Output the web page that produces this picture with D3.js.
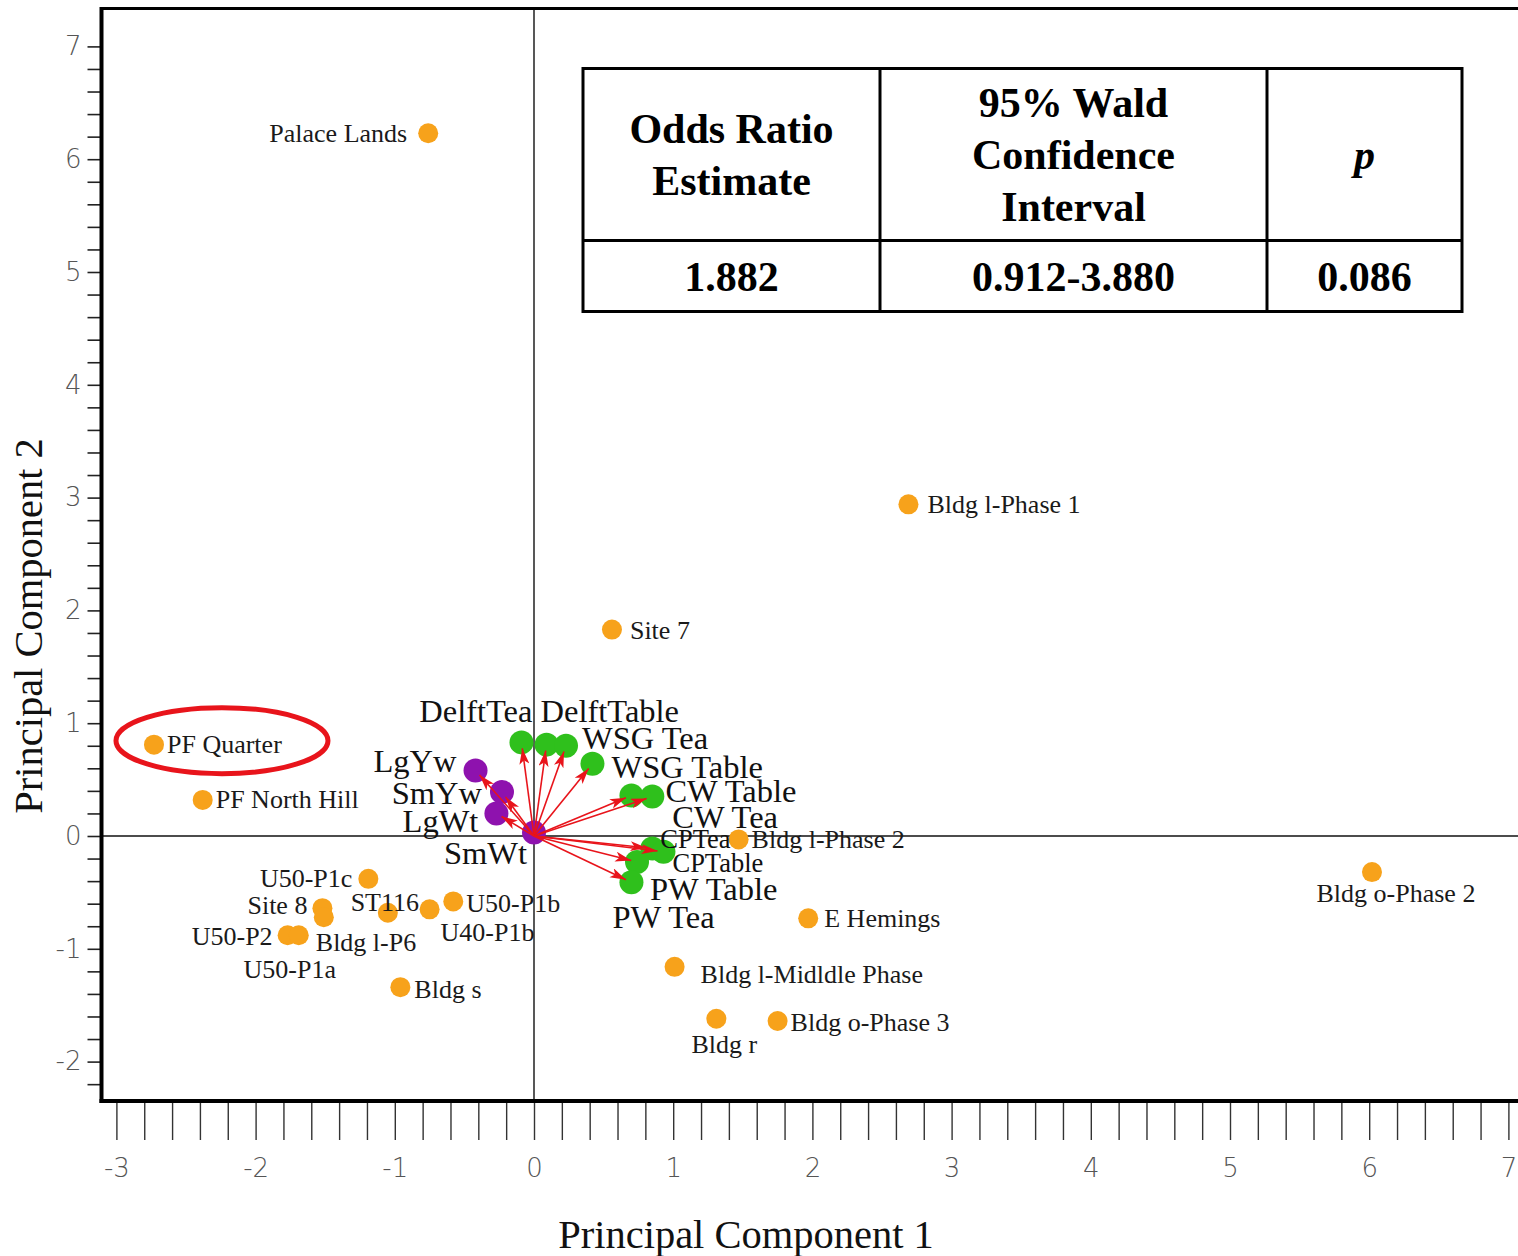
<!DOCTYPE html>
<html>
<head>
<meta charset="utf-8">
<script src="https://cdn.jsdelivr.net/npm/d3@7"></script>
<style>
  html, body { margin: 0; padding: 0; background: #fff; }
  svg { display: block; }
</style>
</head>
<body>
<script>
// ---------------- DATA ----------------
// Sites (PCA scores)
const siteNames = ["Palace Lands", "Bldg l-Phase 1", "Site 7", "PF Quarter", "PF North Hill",
  "Bldg l-Phase 2", "Bldg o-Phase 2", "E Hemings", "Bldg l-Midldle Phase", "Bldg r",
  "Bldg o-Phase 3", "U50-P1c", "Site 8", "Bldg l-P6", "U50-P2", "U50-P1a", "ST116",
  "U40-P1b", "U50-P1b", "Bldg s"];
const sitePC1 = [-0.76, 2.69, 0.56, -2.73, -2.38, 1.47, 6.02, 1.97, 1.01, 1.31,
  1.75, -1.19, -1.52, -1.51, -1.77, -1.69, -1.05, -0.75, -0.58, -0.96];
const sitePC2 = [6.23, 2.94, 1.83, 0.81, 0.32, -0.03, -0.32, -0.73, -1.16, -1.62,
  -1.64, -0.38, -0.64, -0.72, -0.88, -0.88, -0.68, -0.65, -0.58, -1.34];

// Vessel variables (loadings)
const varNames = ["DelftTea", "DelftTable", "WSG Tea", "WSG Table", "CW Table", "CW Tea",
  "CPTea", "CPTable", "PW Table", "PW Tea", "LgYw", "SmYw", "LgWt", "SmWt"];
const varPC1 = [-0.09, 0.09, 0.23, 0.42, 0.70, 0.85, 0.85, 0.93, 0.74, 0.70,
  -0.42, -0.23, -0.27, 0.0];
const varPC2 = [0.83, 0.81, 0.80, 0.64, 0.36, 0.35, -0.11, -0.14, -0.23, -0.41,
  0.58, 0.39, 0.20, 0.03];
const varGroup = ["ware", "ware", "ware", "ware", "ware", "ware", "ware", "ware", "ware", "ware",
  "size", "size", "size", "size"];

// Axis ticks
const xTickLabels = [-3, -2, -1, 0, 1, 2, 3, 4, 5, 6, 7];
const yTickLabels = [-2, -1, 0, 1, 2, 3, 4, 5, 6, 7];
const xTitle = "Principal Component 1";
const yTitle = "Principal Component 2";

// Inset table
const tableHeaders = [["Odds Ratio", "Estimate"], ["95% Wald", "Confidence", "Interval"], ["p"]];
const tableValues = ["1.882", "0.912-3.880", "0.086"];

// Highlighted site
const highlightSite = "PF Quarter";

// ---------------- LAYOUT (label offsets in px / font size, not data) ----------------
const siteLabelLayout = [
  [-21, 0, "end"], [19, 0, "start"], [18, 1, "start"], [13, 0, "start"], [13, 0, "start"],
  [13, 0, "start"], [24, 21, "middle"], [16, 0, "start"], [26, 8, "start"], [8, 26, "middle"],
  [13, 1, "start"], [-16, 0, "end"], [-15, -3, "end"], [-8, 25, "start"], [-15, 1, "end"],
  [-9, 34, "middle"], [-3, -10, "middle"], [11, 23, "start"], [13, 2, "start"], [14, 2, "start"]
];
const varLabelLayout = [
  [11, -31, "end", 32.5], [-6, -33, "start", 32.5], [16, -7, "start", 32.5], [19, 3, "start", 32.5],
  [34, -4, "start", 32.5], [20, 21, "start", 32.5], [8, -9, "start", 26.5], [9, 11, "start", 26.5],
  [13, 27, "start", 32.5], [-19, 35, "start", 32.5],
  [-19, -9, "end", 32.5], [-20, 1, "end", 32.5], [-18, 8, "end", 32.5], [-7, 21, "end", 32.5]
];

// ---------------- DRAW ----------------
const W = 1518, H = 1256;
const frameL = 101.5, frameT = 8.5, frameB = 1101;
const svg = d3.select("body").append("svg").attr("width", W).attr("height", H);

const x = d3.scaleLinear().domain([-3, 7]).range([116.4, 1508.4]);
const y = d3.scaleLinear().domain([-2, 7]).range([1061.6, 46.4]);

const serif = "'Liberation Serif', 'Times New Roman', serif";
const sans = "'DejaVu Sans', 'Liberation Sans', sans-serif";

// zero lines
svg.append("line").attr("x1", x(0)).attr("x2", x(0)).attr("y1", frameT).attr("y2", frameB)
  .attr("stroke", "#111").attr("stroke-width", 1.4);
svg.append("line").attr("x1", frameL).attr("x2", W).attr("y1", y(0)).attr("y2", y(0))
  .attr("stroke", "#111").attr("stroke-width", 1.4);

// minor tick values (every 0.2)
const xMinor = d3.range(-15, 36).map(i => +(i * 0.2).toFixed(1));
const yMinor = d3.range(-11, 36).map(i => +(i * 0.2).toFixed(1));

const xAxis = d3.axisBottom(x).tickValues(xMinor).tickSize(37).tickSizeOuter(0)
  .tickFormat(d => xTickLabels.includes(d) ? String(d) : "").tickPadding(19);
const gx = svg.append("g").attr("transform", `translate(0,${frameB + 2})`).call(xAxis);
gx.select(".domain").remove();
gx.selectAll(".tick line").attr("stroke", "#333").attr("stroke-width", 1.4);
gx.selectAll(".tick text").attr("font-family", sans).attr("font-size", 26)
  .attr("fill", "#555").attr("font-weight", 200);

const yAxis = d3.axisLeft(y).tickValues(yMinor).tickSize(13).tickSizeOuter(0)
  .tickFormat(d => yTickLabels.includes(d) ? String(d) : "").tickPadding(6);
const gy = svg.append("g").attr("transform", `translate(${frameL - 1},0)`).call(yAxis);
gy.select(".domain").remove();
gy.selectAll(".tick line").attr("stroke", "#222").attr("stroke-width", 1.6);
gy.selectAll(".tick text").attr("font-family", sans).attr("font-size", 26)
  .attr("fill", "#555").attr("font-weight", 200);

// frame
svg.append("line").attr("x1", frameL).attr("x2", frameL).attr("y1", frameT - 1.5).attr("y2", frameB + 2)
  .attr("stroke", "#000").attr("stroke-width", 4);
svg.append("line").attr("x1", frameL - 2).attr("x2", W).attr("y1", frameB).attr("y2", frameB)
  .attr("stroke", "#000").attr("stroke-width", 4);
svg.append("line").attr("x1", frameL).attr("x2", W).attr("y1", frameT).attr("y2", frameT)
  .attr("stroke", "#000").attr("stroke-width", 3);

// axis titles
svg.append("text").attr("x", 746).attr("y", 1248).attr("text-anchor", "middle")
  .attr("font-family", serif).attr("font-size", 40.5).attr("fill", "#111").text(xTitle);
svg.append("text").attr("transform", "translate(42,626) rotate(-90)").attr("text-anchor", "middle")
  .attr("font-family", serif).attr("font-size", 40.5).attr("fill", "#111").text(yTitle);

// site points
const sites = siteNames.map((n, i) => ({ name: n, pc1: sitePC1[i], pc2: sitePC2[i], lay: siteLabelLayout[i] }));
svg.append("g").selectAll("circle").data(sites).join("circle")
  .attr("cx", d => x(d.pc1)).attr("cy", d => y(d.pc2)).attr("r", 10)
  .attr("fill", "#F7A21B");

// variable points
const vars = varNames.map((n, i) => ({ name: n, pc1: varPC1[i], pc2: varPC2[i], group: varGroup[i], lay: varLabelLayout[i] }));
svg.append("g").selectAll("circle").data(vars).join("circle")
  .attr("cx", d => x(d.pc1)).attr("cy", d => y(d.pc2)).attr("r", 12)
  .attr("fill", d => d.group === "ware" ? "#2FC01C" : "#8E12AE");

// arrows
const defs = svg.append("defs");
defs.append("marker").attr("id", "ah").attr("markerUnits", "userSpaceOnUse")
  .attr("markerWidth", 20).attr("markerHeight", 12).attr("refX", 16).attr("refY", 5)
  .attr("orient", "auto")
  .append("path").attr("d", "M0,0 L16,5 L0,10 L4,5 Z").attr("fill", "#E8141B");

const ox = x(0), oy = y(0);
svg.append("g").selectAll("line").data(vars.filter(d => d.pc1 !== 0 || d.pc2 > 0.05)).join("line")
  .attr("x1", ox).attr("y1", oy)
  .attr("x2", d => { const px = x(d.pc1), py = y(d.pc2), L = Math.hypot(px - ox, py - oy); return ox + (px - ox) * (L - 6) / L; })
  .attr("y2", d => { const px = x(d.pc1), py = y(d.pc2), L = Math.hypot(px - ox, py - oy); return oy + (py - oy) * (L - 6) / L; })
  .attr("stroke", "#E8141B").attr("stroke-width", 1.6).attr("marker-end", "url(#ah)");

// labels
svg.append("g").selectAll("text").data(sites).join("text")
  .attr("x", d => x(d.pc1) + d.lay[0]).attr("y", d => y(d.pc2) + d.lay[1])
  .attr("dy", "0.33em").attr("text-anchor", d => d.lay[2])
  .attr("font-family", serif).attr("font-size", 26).attr("fill", "#1a1a1a").text(d => d.name);
svg.append("g").selectAll("text").data(vars).join("text")
  .attr("x", d => x(d.pc1) + d.lay[0]).attr("y", d => y(d.pc2) + d.lay[1])
  .attr("dy", "0.33em").attr("text-anchor", d => d.lay[2])
  .attr("font-family", serif).attr("font-size", d => d.lay[3]).attr("fill", "#111").text(d => d.name);

// highlight ellipse
const hs = sites.find(d => d.name === highlightSite);
svg.append("ellipse").attr("cx", x(hs.pc1) + 68).attr("cy", y(hs.pc2) - 4)
  .attr("rx", 106).attr("ry", 33).attr("fill", "none")
  .attr("stroke", "#E8141B").attr("stroke-width", 5);

// inset table
const tL = 583, tR = 1462, tT = 68.5, tM = 240.5, tB = 311.5;
const colX = [tL, 880, 1267, tR];
const tg = svg.append("g");
tg.append("rect").attr("x", tL).attr("y", tT).attr("width", tR - tL).attr("height", tB - tT)
  .attr("fill", "#fff").attr("stroke", "#000").attr("stroke-width", 3);
tg.append("line").attr("x1", tL).attr("x2", tR).attr("y1", tM).attr("y2", tM).attr("stroke", "#000").attr("stroke-width", 3);
[1, 2].forEach(i => tg.append("line").attr("x1", colX[i]).attr("x2", colX[i]).attr("y1", tT).attr("y2", tB)
  .attr("stroke", "#000").attr("stroke-width", 3));
const lineH = 52;
tableHeaders.forEach((lines, c) => {
  const cx = (colX[c] + colX[c + 1]) / 2;
  const midY = (tT + tM) / 2;
  lines.forEach((ln, k) => {
    tg.append("text").attr("x", cx).attr("y", midY + (k - (lines.length - 1) / 2) * lineH)
      .attr("dy", "0.35em").attr("text-anchor", "middle")
      .attr("font-family", serif).attr("font-weight", "bold").attr("font-size", 42)
      .attr("font-style", c === 2 ? "italic" : "normal").attr("fill", "#000").text(ln);
  });
  tg.append("text").attr("x", cx).attr("y", (tM + tB) / 2).attr("dy", "0.35em")
    .attr("text-anchor", "middle").attr("font-family", serif).attr("font-weight", "bold")
    .attr("font-size", 42).attr("fill", "#000").text(tableValues[c]);
});
</script>
</body>
</html>
